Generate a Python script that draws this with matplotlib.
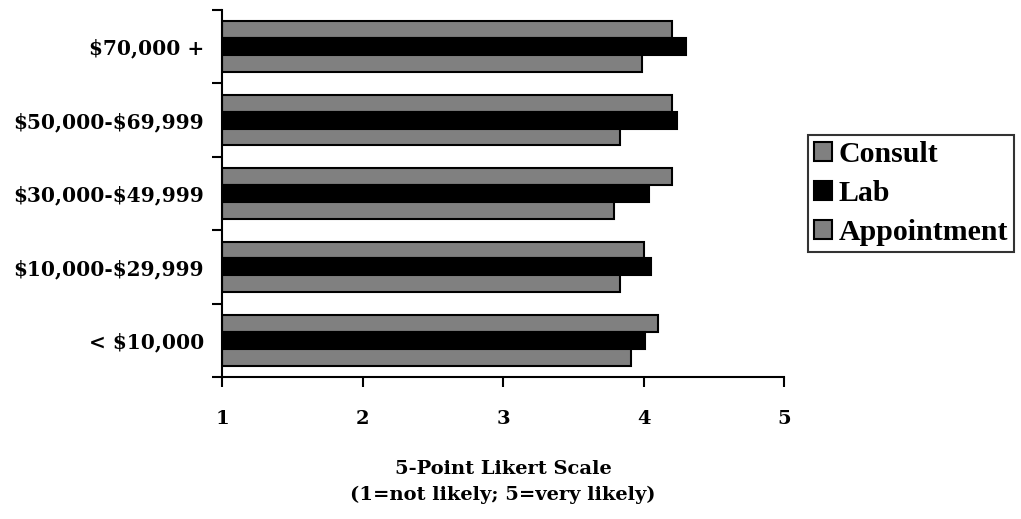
import numpy as np
import matplotlib
matplotlib.use("Agg")
import matplotlib.pyplot as plt

plt.rcParams["text.parse_math"] = False

# income groups, bottom to top
categories = ["< $10,000", "$10,000-$29,999", "$30,000-$49,999",
              "$50,000-$69,999", "$70,000 +"]
consult = [4.10, 4.00, 4.20, 4.20, 4.20]
lab = [4.01, 4.05, 4.04, 4.24, 4.30]
appointment = [3.91, 3.83, 3.79, 3.83, 3.99]
x_ticks = [1, 2, 3, 4, 5]

fig = plt.figure(figsize=(10.21, 5.19), dpi=100)
ax = fig.add_axes([0.2174, 0.2736, 0.5507, 0.7072])

y = np.arange(len(categories))
h = 0.23
ax.barh(y + h, np.array(consult) - 1, h, left=1, color="#808080",
        edgecolor="black", linewidth=1.5, label="Consult")
ax.barh(y, np.array(lab) - 1, h, left=1, color="black",
        edgecolor="black", linewidth=1.5, label="Lab")
ax.barh(y - h, np.array(appointment) - 1, h, left=1, color="#808080",
        edgecolor="black", linewidth=1.5, label="Appointment")

ax.set_xlim(1, 5)
ax.set_ylim(-0.5, len(categories) - 0.5)
ax.set_xticks(x_ticks)
ax.set_xticklabels([str(t) for t in x_ticks], fontfamily="DejaVu Serif",
                   fontweight="bold", fontsize=14)
ax.tick_params(axis="x", direction="out", length=7, width=1.5, pad=17)

# category ticks sit on group boundaries, labels centred between them
ax.set_yticks(np.arange(-0.5, len(categories), 1.0))
ax.set_yticklabels([])
ax.set_yticks(y, minor=True)
ax.set_yticklabels(categories, minor=True, fontfamily="DejaVu Serif",
                   fontweight="bold", fontsize=14.5)
ax.tick_params(axis="y", which="major", direction="out", length=7, width=1.5)
ax.tick_params(axis="y", which="minor", length=0, pad=13)

for s in ["top", "right"]:
    ax.spines[s].set_visible(False)
for s in ["left", "bottom"]:
    ax.spines[s].set_linewidth(1.5)

ax.set_xlabel("5-Point Likert Scale\n(1=not likely; 5=very likely)",
              fontfamily="DejaVu Serif", fontweight="bold", fontsize=14,
              labelpad=23, linespacing=1.5)

leg = ax.legend(loc="center left", bbox_to_anchor=(1.043, 0.5),
                prop={"family": "Liberation Serif", "weight": "bold", "size": 21.5},
                frameon=True, fancybox=False, edgecolor="black",
                handlelength=0.6, handleheight=0.6, handletextpad=0.2,
                borderpad=0.2, labelspacing=0.4, borderaxespad=0)
leg.get_frame().set_linewidth(1.5)

fig.savefig("out.png", dpi=100)
